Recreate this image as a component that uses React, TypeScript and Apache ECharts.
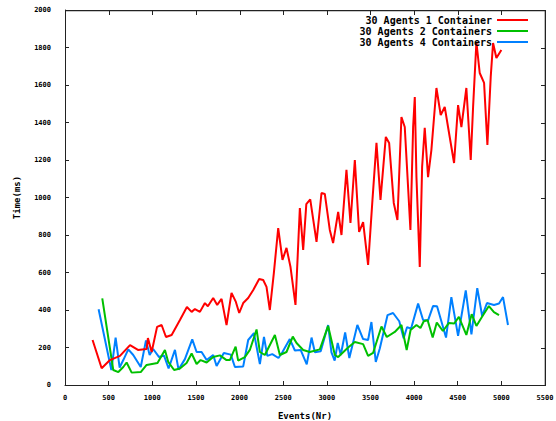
import React, { useEffect, useRef } from "react";
import * as echarts from "echarts";

const seriesNames = ["30 Agents 1 Container", "30 Agents 2 Containers", "30 Agents 4 Containers"];
const xTicks = [0, 500, 1000, 1500, 2000, 2500, 3000, 3500, 4000, 4500, 5000, 5500];
const yTicks = [0, 200, 400, 600, 800, 1000, 1200, 1400, 1600, 1800, 2000];

const redX = [316, 420, 515, 630, 745, 836, 935, 950, 993, 1055, 1107, 1157, 1222, 1317, 1397, 1451, 1489, 1546, 1603, 1637, 1698, 1744, 1794, 1851, 1908, 1958, 1996, 2042, 2099, 2157, 2225, 2271, 2309, 2347, 2393, 2443, 2492, 2538, 2584, 2641, 2691, 2729, 2765, 2810, 2882, 2939, 2977, 3034, 3072, 3130, 3168, 3225, 3271, 3321, 3370, 3416, 3473, 3523, 3569, 3615, 3676, 3714, 3767, 3809, 3855, 3893, 3931, 3958, 3989, 4008, 4027, 4065, 4092, 4122, 4160, 4198, 4256, 4305, 4351, 4389, 4458, 4504, 4542, 4599, 4649, 4676, 4714, 4752, 4802, 4840, 4878, 4905, 4943, 5000];
const redY = [240, 89, 133, 155, 213, 187, 192, 250, 176, 310, 320, 256, 267, 347, 416, 390, 405, 390, 437, 420, 464, 427, 459, 320, 491, 443, 384, 437, 464, 507, 565, 560, 523, 400, 597, 837, 667, 731, 629, 427, 944, 720, 965, 990, 763, 1024, 1019, 827, 757, 923, 800, 1147, 864, 1200, 816, 869, 640, 987, 1291, 987, 1323, 1291, 971, 880, 1429, 1376, 1056, 827, 1376, 1536, 1109, 629, 1163, 1371, 1109, 1253, 1584, 1440, 1483, 1376, 1184, 1493, 1376, 1584, 1200, 1483, 1829, 1664, 1611, 1280, 1643, 1824, 1744, 1787];

const greenX = [427, 553, 611, 668, 706, 764, 868, 935, 1060, 1145, 1183, 1250, 1317, 1393, 1451, 1508, 1554, 1623, 1698, 1775, 1851, 1889, 1955, 1984, 2061, 2118, 2195, 2233, 2290, 2405, 2462, 2538, 2610, 2653, 2729, 2805, 2920, 3015, 3092, 3130, 3244, 3321, 3416, 3473, 3530, 3626, 3687, 3779, 3855, 3915, 3960, 4027, 4073, 4111, 4155, 4213, 4260, 4330, 4400, 4460, 4513, 4599, 4660, 4714, 4777, 4857, 4915, 4973];
const greenY = [462, 80, 69, 96, 120, 66, 69, 107, 117, 187, 123, 80, 88, 117, 168, 112, 133, 120, 149, 158, 133, 133, 205, 130, 149, 187, 296, 176, 160, 267, 160, 176, 258, 224, 187, 176, 190, 315, 160, 149, 200, 229, 218, 155, 171, 312, 256, 283, 320, 187, 293, 320, 304, 340, 345, 253, 333, 288, 331, 328, 363, 267, 378, 315, 363, 421, 389, 373];

const blueX = [385, 531, 580, 626, 668, 725, 782, 868, 928, 970, 1010, 1078, 1135, 1187, 1260, 1301, 1374, 1458, 1508, 1565, 1623, 1698, 1737, 1820, 1900, 1947, 2042, 2099, 2165, 2233, 2280, 2318, 2375, 2446, 2492, 2576, 2634, 2700, 2770, 2825, 2863, 2930, 3015, 3053, 3090, 3125, 3160, 3210, 3258, 3350, 3416, 3473, 3511, 3561, 3607, 3696, 3759, 3830, 3880, 3920, 3965, 4046, 4103, 4160, 4217, 4263, 4366, 4427, 4504, 4592, 4657, 4724, 4780, 4835, 4915, 4973, 5019, 5076];
const blueY = [404, 80, 253, 93, 133, 190, 160, 96, 238, 160, 192, 149, 157, 88, 187, 82, 138, 243, 176, 176, 133, 160, 101, 171, 162, 96, 99, 240, 277, 112, 256, 155, 165, 144, 176, 245, 184, 187, 110, 253, 175, 180, 320, 174, 130, 224, 160, 280, 144, 320, 245, 240, 336, 123, 195, 373, 384, 340, 250, 309, 300, 434, 347, 345, 421, 420, 253, 469, 262, 504, 270, 517, 368, 437, 427, 435, 469, 320];

const colors = ["#ff0000", "#00c000", "#0080ff"];

const font = "DejaVu Sans Mono";

export default function App() {
  const ref = useRef<HTMLDivElement>(null);
  useEffect(() => {
    if (!ref.current) return;
    const chart = echarts.init(ref.current, null, { renderer: "svg" });
    const pairs = (xs: number[], ys: number[]) => xs.map((x, i) => [x, ys[i]]);
    const seriesData = [pairs(redX, redY), pairs(greenX, greenY), pairs(blueX, blueY)];
    const frameColor = "#222";
    const axisLine = { show: true, onZero: false, lineStyle: { color: frameColor, width: 1 } };
    const tick = { show: true, inside: true, length: 4, lineStyle: { color: frameColor } };
    const tickLbl = { fontFamily: font, fontWeight: "bold" as const, fontSize: 7, color: "#000" };
    chart.setOption({
      animation: false,
      backgroundColor: "#fff",
      grid: {
        left: 65,
        right: 11,
        top: 10,
        bottom: 36,
        containLabel: false,
        outerBoundsMode: "none",
      },
      legend: {
        orient: "vertical",
        align: "right",
        right: 23,
        top: 10,
        itemWidth: 31,
        itemHeight: 2,
        itemGap: 1,
        icon: "rect",
        data: seriesNames,
        textStyle: { fontFamily: font, fontWeight: "bold", fontSize: 10, lineHeight: 10, color: "#000" },
      },
      xAxis: {
        type: "value",
        min: 0,
        max: 5500,
        interval: 500,
        position: "bottom",
        name: "Events(Nr)",
        nameLocation: "middle",
        nameGap: 26,
        nameTextStyle: { fontFamily: font, fontWeight: "bold", fontSize: 9, color: "#000" },
        axisLine,
        axisTick: tick,
        axisLabel: { ...tickLbl, margin: 9, formatter: (v: number) => (xTicks.includes(v) ? String(v) : "") },
        splitLine: { show: false },
      },
      yAxis: {
        type: "value",
        min: 0,
        max: 2000,
        interval: 200,
        position: "left",
        name: "Time(ms)",
        nameLocation: "middle",
        nameGap: 44,
        nameTextStyle: { fontFamily: font, fontWeight: "bold", fontSize: 9, color: "#000" },
        axisLine,
        axisTick: tick,
        axisLabel: { ...tickLbl, margin: 14, formatter: (v: number) => String(v) },
        splitLine: { show: false },
      },
      series: seriesNames.map((name, i) => ({
        name,
        type: "line",
        data: seriesData[i],
        symbol: "none",
        showSymbol: false,
        lineStyle: { color: colors[i], width: 2 },
        itemStyle: { color: colors[i] },
        z: 3 - i,
      })),
    });

    // Frame: top & right borders plus mirrored inward ticks, placed through the axes' own scales
    const xMax = xTicks[xTicks.length - 1];
    const yMin = yTicks[0];
    const yMax = yTicks[yTicks.length - 1];
    const px = (x: number, y: number) => chart.convertToPixel({ gridIndex: 0 }, [x, y]) as number[];
    const tl = px(xTicks[0], yMax);
    const br = px(xMax, yMin);
    const top = Math.round(tl[1]);
    const right = Math.round(br[0]);
    const elems: any[] = [];
    const fill = { fill: frameColor };
    // borders as thin filled rects (robust against stroke antialiasing)
    elems.push({ type: "rect", silent: true, z: 100, shape: { x: Math.round(tl[0]), y: top, width: right - Math.round(tl[0]) + 1, height: 1.3 }, style: fill });
    elems.push({ type: "rect", silent: true, z: 100, shape: { x: right - 0.3, y: top, width: 1.3, height: Math.round(br[1]) - top + 1 }, style: fill });
    xTicks.forEach((v) => {
      const p = px(v, yMax);
      elems.push({ type: "rect", silent: true, z: 100, shape: { x: Math.round(p[0]), y: top, width: 1, height: 5 }, style: fill });
    });
    yTicks.forEach((v) => {
      const p = px(xMax, v);
      elems.push({ type: "rect", silent: true, z: 100, shape: { x: right - 4, y: Math.round(p[1]), width: 5, height: 1 }, style: fill });
    });
    chart.setOption({ graphic: { elements: elems } });

    return () => chart.dispose();
  }, []);
  return (
    <div
      ref={ref}
      style={{ position: "fixed", left: 0, top: 0, width: 556, height: 421, background: "#fff" }}
    />
  );
}
